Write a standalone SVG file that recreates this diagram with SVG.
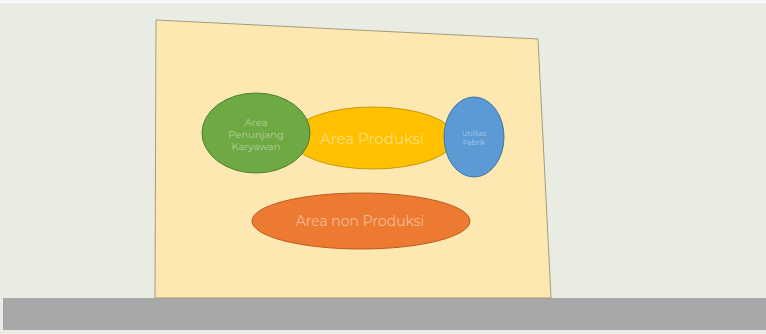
<svg xmlns="http://www.w3.org/2000/svg" width="766" height="334" viewBox="0 0 766 334">
  <style>
    .label { font-family: "Montserrat", "Lato", "Open Sans", sans-serif; fill: #ffffff; fill-opacity: 0.48; text-anchor: middle; dominant-baseline: central; }
    .shape { stroke-width: 1; }
  </style>
  <!-- backdrop -->
  <rect x="0" y="0" width="766" height="334" fill="#E8ECE2"/>
  <rect x="0" y="0" width="766" height="3" fill="#FAFBF8"/>
  <rect x="3" y="298" width="763" height="32" fill="#A8A8A8"/>

  <!-- sheet -->
  <polygon id="sheet" points="156,20 538,39 551,298 155,298" fill="#FEE8B1" stroke="#A39C7C" stroke-width="1"/>

  <g id="area-produksi">
    <ellipse class="shape" cx="373" cy="138" rx="82" ry="31" fill="#FFC000" stroke="#C99A10"/>
    <text class="label" x="372" y="138" font-size="15">Area Produksi</text>
  </g>
  <g id="area-penunjang">
    <ellipse class="shape" cx="256" cy="133" rx="54" ry="40" fill="#6FA944" stroke="#4E7F2E"/>
    <text class="label" x="256" y="122" font-size="10">Area</text>
    <text class="label" x="256" y="134" font-size="10">Penunjang</text>
    <text class="label" x="256" y="146" font-size="10">Karyawan</text>
  </g>
  <g id="utilitas">
    <ellipse class="shape" cx="474" cy="137" rx="30" ry="40" fill="#5B9AD5" stroke="#3F73A8"/>
    <text class="label" x="474" y="133" font-size="7">Utilitas</text>
    <text class="label" x="474" y="142" font-size="7">Pabrik</text>
  </g>
  <g id="area-non-produksi">
    <ellipse class="shape" cx="361" cy="221" rx="109" ry="28" fill="#EC7B31" stroke="#B85A1E"/>
    <text class="label" x="360" y="221" font-size="14">Area non Produksi</text>
  </g>
</svg>
